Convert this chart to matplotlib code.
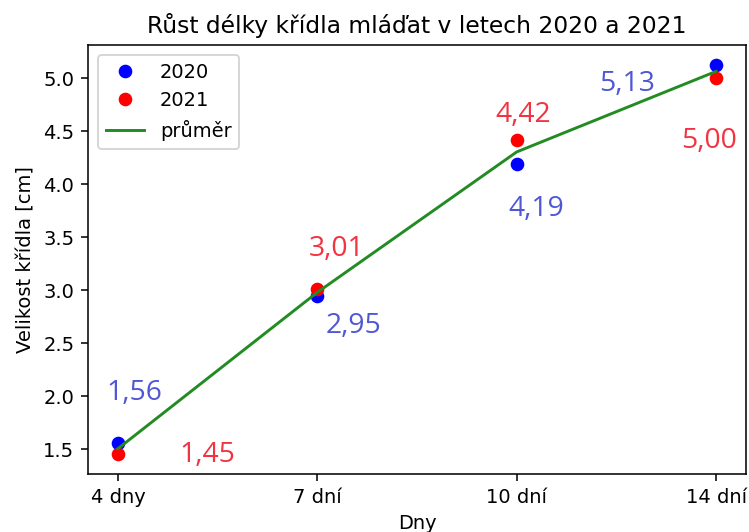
import matplotlib
matplotlib.use("Agg")
import matplotlib.pyplot as plt

days = ["4 dny", "7 dní", "10 dní", "14 dní"]
y2020 = [1.56, 2.95, 4.19, 5.13]
y2021 = [1.45, 3.01, 4.42, 5.00]
labels2020 = ["1,56", "2,95", "4,19", "5,13"]
labels2021 = ["1,45", "3,01", "4,42", "5,00"]
# label offsets (data units) from each point
off2020 = [(0.08, 0.47), (0.18, -0.29), (0.10, -0.42), (-0.445, -0.18)]
off2021 = [(0.45, 0.00), (0.095, 0.38), (0.035, 0.23), (-0.035, -0.59)]

xs = list(range(len(days)))
mean = [(a + b) / 2 for a, b in zip(y2020, y2021)]

fig = plt.figure(figsize=(749 / 140, 532 / 140), dpi=140)
ax = fig.add_axes([88 / 749, 1 - 474 / 532, (746 - 88) / 749, (474 - 45) / 532])

ax.plot(xs, y2020, "o", color="blue", label="2020")
ax.plot(xs, y2021, "o", color="red", label="2021")
ax.plot(xs, mean, "-", color="forestgreen", label="průměr")

for x, y, t, (dx, dy) in zip(xs, y2020, labels2020, off2020):
    ax.text(x + dx, y + dy, t, color="#4f57d4", fontsize=14.5,
            family=["Open Sans", "DejaVu Sans"], ha="center", va="center")
for x, y, t, (dx, dy) in zip(xs, y2021, labels2021, off2021):
    ax.text(x + dx, y + dy, t, color="#f23442", fontsize=14.5,
            family=["Open Sans", "DejaVu Sans"], ha="center", va="center")

ax.set_xticks(xs)
ax.set_xticklabels(days)
ax.set_xlabel("Dny")
ax.set_ylabel("Velikost křídla [cm]")
ax.set_title("Růst délky křídla mláďat v letech 2020 a 2021")
ax.legend(loc="upper left")

fig.savefig("out.png", dpi=140)
